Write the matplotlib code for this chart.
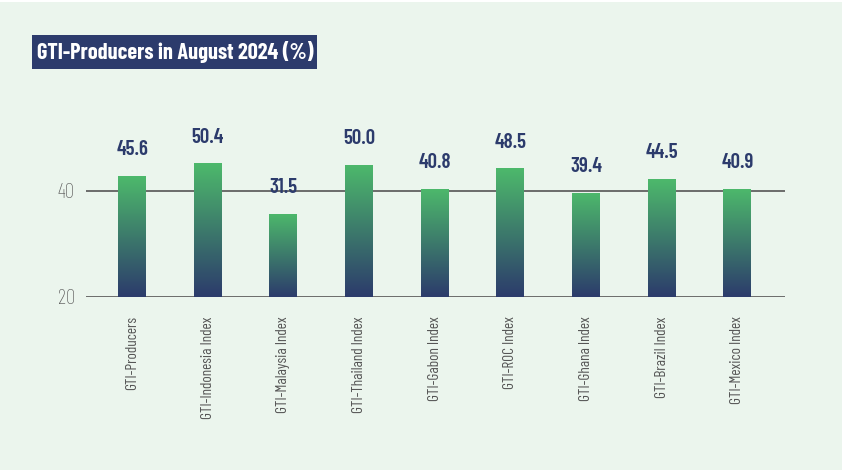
import numpy as np
import matplotlib
matplotlib.use("Agg")
import matplotlib.pyplot as plt
from matplotlib.colors import LinearSegmentedColormap
from matplotlib.patches import Rectangle

# data
categories = ["GTI-Producers", "GTI-Indonesia Index", "GTI-Malaysia Index",
              "GTI-Thailand Index", "GTI-Gabon Index", "GTI-ROC Index",
              "GTI-Ghana Index", "GTI-Brazil Index", "GTI-Mexico Index"]
values = [45.6, 50.4, 31.5, 50.0, 40.8, 48.5, 39.4, 44.5, 40.9]
tick_pos = [0, 40]
tick_labels = ["20", "40"]

# colours
BG = "#ebf5ed"
NAVY = "#2c3b6c"
GREEN = "#4db96b"
GRAY = "#555555"

plt.rcParams['font.family'] = ['Barlow Condensed', 'DejaVu Sans']

fig = plt.figure(figsize=(8.42, 4.70), dpi=100, facecolor=BG)
ax = fig.add_axes([86 / 842, 1 - 297 / 470, 699 / 842, 197 / 470])
ax.set_facecolor(BG)

x = np.arange(len(categories))
bars = ax.bar(x, values, width=0.37, color="none", zorder=3)

# vertical gradient for each bar, green on top, navy at bottom
cmap = LinearSegmentedColormap.from_list("gti", [NAVY, GREEN])
grad = np.linspace(0, 1, 256).reshape(-1, 1)
for b in bars:
    x0, w, h = b.get_x(), b.get_width(), b.get_height()
    im = ax.imshow(grad, cmap=cmap, origin="lower", aspect="auto",
                   extent=[x0, x0 + w, 0, h], zorder=3)
    im.set_clip_path(b)

for xi, v in zip(x, values):
    ax.annotate(f"{v:.1f}", (xi, v), xytext=(0, 15), textcoords="offset points",
                ha="center", va="baseline", fontsize=15, fontweight="semibold",
                color=NAVY)

ax.set_xlim(-0.61, len(categories) - 1 + 0.63)
ax.set_ylim(0, 197 / 2.65)

for t in tick_pos:
    ax.axhline(t, color=GRAY, lw=1.2, zorder=2)

ax.set_yticks(tick_pos)
ax.set_yticklabels(tick_labels, fontsize=15, color=GRAY, fontweight="light")
ax.set_xticks(x)
ax.set_xticklabels(categories, rotation=90, fontsize=11, color=GRAY)
ax.tick_params(axis="both", length=0)
ax.tick_params(axis="y", pad=8)
ax.tick_params(axis="x", pad=14)
for s in ax.spines.values():
    s.set_visible(False)

# thin white strip along the top edge
fig.patches.append(Rectangle((0, 1 - 2 / 470), 1, 2 / 470, transform=fig.transFigure,
                             facecolor="white", edgecolor="none"))

# title box
fig.patches.append(Rectangle((32 / 842, 1 - 69 / 470), 285 / 842, 34 / 470,
                             transform=fig.transFigure, facecolor=NAVY,
                             edgecolor="none"))
fig.text(175 / 842, 1 - 52 / 470, "GTI-Producers in August 2024 (%)",
         ha="center", va="center", fontsize=16, fontweight="bold", color="white")

fig.savefig("out.png", dpi=100, facecolor=BG)
